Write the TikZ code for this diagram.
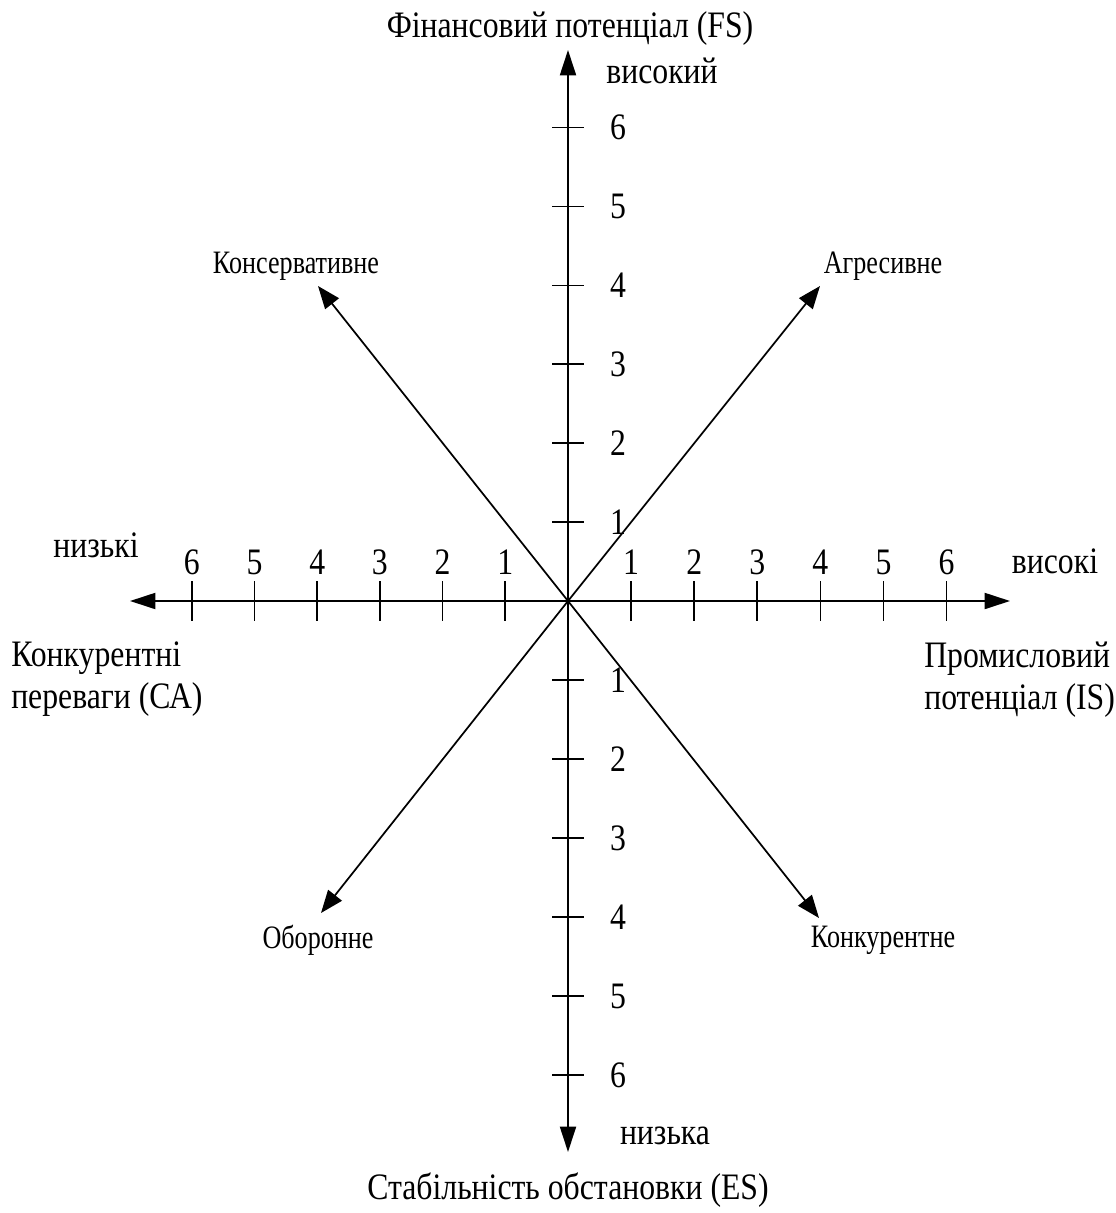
\documentclass[tikz,border=0pt]{standalone}
\usepackage{fontspec}
\setmainfont[FakeStretch=0.85]{Liberation Serif}
\newfontfamily\narrowserif[FakeStretch=0.8]{Liberation Serif}
\usetikzlibrary{arrows.meta}
\begin{document}
\begin{tikzpicture}[x=0.75pt,y=-0.75pt,
  axis/.style={line width=1.4pt,-{Triangle[length=19pt,width=12pt]}},
  diag/.style={line width=1.3pt,-{Triangle[length=17pt,width=13pt]}},
  tick/.style={line width=1.3pt},
  big/.style={font=\fontsize{28}{33}\selectfont,inner sep=0pt},
  num/.style={font=\fontsize{28}{33}\selectfont,inner sep=0pt},
  small/.style={font=\narrowserif\fontsize{24.5}{29}\selectfont,inner sep=0pt}]
\useasboundingbox (0,0) rectangle (1115,1213);
\coordinate (O) at (568,601);
\coordinate (L) at (130,601);
\coordinate (R) at (1010,601);
\coordinate (T) at (568,50);
\coordinate (B) at (568,1152);
\coordinate (NE) at (820,286);
\coordinate (NW) at (318,286);
\coordinate (SW) at (321,913);
\coordinate (SE) at (819,918);
% axes
\draw[axis] (O) -- (L);
\draw[axis] (O) -- (R);
\draw[axis] (O) -- (T);
\draw[axis] (O) -- (B);
% strategy directions
\draw[diag] (O) -- (NE);
\draw[diag] (O) -- (NW);
\draw[diag] (O) -- (SW);
\draw[diag] (O) -- (SE);
% ticks and scale numbers on the horizontal axis
\foreach \i in {1,...,6}{
  \pgfmathsetmacro{\xr}{568+63.1*\i}
  \pgfmathsetmacro{\xl}{568-62.7*\i}
  \draw[tick] (\xr,581) -- (\xr,621);
  \draw[tick] (\xl,581) -- (\xl,621);
  \node[num] (hr\i) at (\xr,562) {\i};
  \node[num] (hl\i) at (\xl,562) {\i};
}
% ticks and scale numbers on the vertical axis
\foreach \i in {1,...,6}{
  \pgfmathsetmacro{\yu}{601-78.9*\i}
  \pgfmathsetmacro{\yd}{601+79*\i}
  \draw[tick] (552,\yu) -- (584,\yu);
  \draw[tick] (552,\yd) -- (584,\yd);
  \node[num] (vu\i) at (618,\yu) {\i};
  \node[num] (vd\i) at (618,\yd) {\i};
}
% axis titles
\node[big] (fs) at (570,29) {Фінансовий потенціал (FS)};
\node[big] (hi) at (662,71) {високий};
\node[big] (lo) at (665,1136) {низька};
\node[big] (es) at (568,1190) {Стабільність обстановки (ES)};
\node[big] (lw) at (96,545) {низькі};
\node[big] (hg) at (1055,561) {високі};
\node[big,align=left,anchor=north west] (ca) at (11,642) {Конкурентні\\[-2pt]переваги (СА)};
\node[big,align=left,anchor=north west] (is) at (924,642) {Промисловий\\[-2pt]потенціал (IS)};
% strategy labels
\node[small] (agr) at (883,266) {Агресивне};
\node[small] (cons) at (296,266) {Консервативне};
\node[small] (def) at (318,940) {Оборонне};
\node[small] (comp) at (883,940) {Конкурентне};
\end{tikzpicture}
\end{document}
